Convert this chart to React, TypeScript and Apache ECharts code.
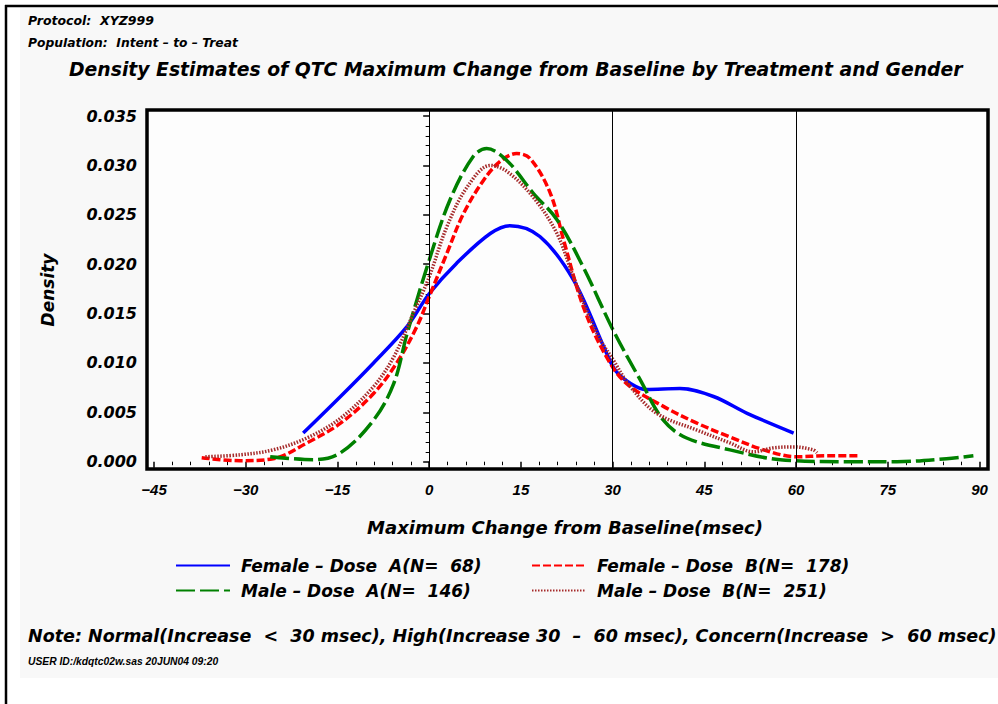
import React, { useEffect, useRef } from "react";
import * as echarts from "echarts";

// ---- data (x = max change from baseline in msec, y = density) ----
const femaleDoseA: [number, number][] = [
  [-20.6, 0.0029], [-14.5, 0.0066], [-9.1, 0.01], [-3.6, 0.0137], [0, 0.017],
  [4.5, 0.0201], [10, 0.0231], [13.2, 0.0239], [18.1, 0.0228], [23.6, 0.0184],
  [29, 0.011], [30.5, 0.0092], [33, 0.0079], [35.5, 0.0073], [41, 0.0074],
  [46.5, 0.0066], [52, 0.0049], [59.6, 0.0029],
];
const femaleDoseB: [number, number][] = [
  [-37.2, 0.0004], [-30.9, 0.0001], [-25.5, 0.0003], [-20, 0.0019], [-14.5, 0.0039],
  [-9.1, 0.0069], [-5.3, 0.01], [-2, 0.0137], [0, 0.0167], [2.9, 0.0211],
  [5.6, 0.0251], [8.9, 0.0285], [11.6, 0.0304], [14.3, 0.0312], [16.5, 0.0307],
  [19.8, 0.0272], [22, 0.0224], [25.2, 0.0157], [29, 0.0106], [32.3, 0.0079],
  [38.3, 0.0056], [43.8, 0.0039], [49.2, 0.0025], [54.7, 0.0012], [60.1, 0.0005],
  [65, 0.0006], [70.5, 0.0006],
];
const maleDoseA: [number, number][] = [
  [-26, 0.0005], [-18.9, 0.0002], [-14.5, 0.0009], [-9.1, 0.0042], [-5.8, 0.0079],
  [-3.6, 0.013], [0, 0.0204], [3.4, 0.0265], [7.2, 0.0309], [9.4, 0.0317],
  [12.7, 0.0305], [17, 0.0272], [20.9, 0.0245], [25.2, 0.0197], [30.1, 0.0133],
  [34.5, 0.0083], [38.3, 0.0042], [42.1, 0.0024], [49.2, 0.0012], [57.4, 0.0002],
  [68, 0.0], [76.5, 0.0], [84.6, 0.0003], [89, 0.0006],
];
const maleDoseB: [number, number][] = [
  [-36.6, 0.0005], [-30.9, 0.0007], [-25.5, 0.0012], [-20, 0.0024], [-14.5, 0.0044],
  [-9.1, 0.0076], [-5.8, 0.0106], [-2.6, 0.015], [0, 0.0187], [2.9, 0.0238],
  [6.2, 0.0278], [10, 0.03], [12.7, 0.0294], [17, 0.0268], [20.9, 0.0231],
  [23.6, 0.0187], [27.4, 0.013], [30.1, 0.0103], [32.9, 0.0076], [37.2, 0.0049],
  [43.8, 0.0032], [49.2, 0.0019], [53, 0.001], [56.3, 0.0014], [59.6, 0.0015],
  [62.8, 0.0012], [63.4, 0.0009],
];
const referenceLines = [0, 30, 60];

const seriesNames = [
  "Female – Dose  A(N=  68)",
  "Female – Dose  B(N=  178)",
  "Male – Dose  A(N=  146)",
  "Male – Dose  B(N=  251)",
];

const titleText = "Density Estimates of QTC Maximum Change from Baseline by Treatment and Gender";
const protocolText = "Protocol:  XYZ999";
const populationText = "Population:  Intent – to – Treat";
const xAxisTitle = "Maximum Change from Baseline(msec)";
const yAxisTitle = "Density";
const noteText =
  "Note: Normal(Increase  <  30 msec), High(Increase 30  –  60 msec), Concern(Increase  >  60 msec)";
const userText = "USER ID:/kdqtc02w.sas 20JUN04 09:20";

const X_MIN = -45, X_MAX = 90, X_STEP = 15;
const Y_MIN = 0, Y_MAX = 0.035, Y_STEP = 0.005;

const LIB = '"Liberation Sans", Arial, sans-serif';
const DJV = '"DejaVu Sans", "Liberation Sans", sans-serif';
const font = (size: number, family: string = DJV) => ({
  fontFamily: family,
  fontSize: size,
  fontWeight: "bold" as const,
  fontStyle: "italic" as const,
  color: "#000",
});

export default function App() {
  const ref = useRef<HTMLDivElement>(null);

  useEffect(() => {
    if (!ref.current) return;
    const chart = echarts.init(ref.current, null, { renderer: "svg" });

    // Visible-axis grid (tick positions) and frame grid (plot box)
    const ax = { left: 154, top: 116, right: 979.5, bottom: 461.7 };
    const fr = { left: 147, top: 110, right: 988, bottom: 469 };
    const pxPerX = (ax.right - ax.left) / (X_MAX - X_MIN);
    const pxPerY = (ax.bottom - ax.top) / (Y_MAX - Y_MIN);
    const fxMin = X_MIN - (ax.left - fr.left) / pxPerX;
    const fxMax = X_MAX + (fr.right - ax.right) / pxPerX;
    const fyMin = Y_MIN - (fr.bottom - ax.bottom) / pxPerY;
    const fyMax = Y_MAX + (ax.top - fr.top) / pxPerY;

    const mk = (
      name: string,
      data: [number, number][],
      color: string,
      type: any,
      width: number
    ) => ({
      name,
      type: "line",
      xAxisIndex: 0,
      yAxisIndex: 0,
      data,
      smooth: 0.35,
      showSymbol: false,
      symbol: "none",
      z: 3,
      lineStyle: { color, width, type, cap: "butt" },
      itemStyle: { color },
      emphasis: { disabled: true },
    });

    const legendBase = {
      orient: "vertical",
      top: 557,
      padding: 0,
      itemWidth: 54,
      itemHeight: 12,
      itemGap: 8,
      itemStyle: { opacity: 0 },
      textStyle: { ...font(17), padding: [0, 0, 0, 6] },
      selectedMode: false,
    };

    chart.setOption({
      animation: false,
      backgroundColor: "#ffffff",
      title: {
        text: titleText,
        left: 69,
        top: 60,
        padding: 0,
        textStyle: { ...font(18.8) },
      },
      grid: [
        {
          left: fr.left,
          top: fr.top,
          width: fr.right - fr.left,
          height: fr.bottom - fr.top,
          show: true,
          borderColor: "#000",
          borderWidth: 3.5,
          backgroundColor: "#FDFDFD",
          containLabel: false,
        },
        {
          left: ax.left,
          top: ax.top,
          width: ax.right - ax.left,
          height: ax.bottom - ax.top,
          containLabel: false,
        },
      ],
      xAxis: [
        {
          type: "value",
          gridIndex: 0,
          min: fxMin,
          max: fxMax,
          show: false,
          splitLine: { show: false },
        },
        {
          type: "value",
          gridIndex: 1,
          min: X_MIN,
          max: X_MAX,
          interval: X_STEP,
          position: "bottom",
          offset: fr.bottom - ax.bottom,
          axisLine: { show: false },
          axisTick: { show: true, length: 6, lineStyle: { color: "#000", width: 1.5 } },
          minorTick: { show: true, splitNumber: 5, length: 3.5, lineStyle: { color: "#000", width: 1 } },
          splitLine: { show: false },
          axisLabel: {
            ...font(15, LIB),
            margin: 13,
            formatter: (v: number) => (v < 0 ? "\u2212" + Math.abs(v) : String(v)),
          },
        },
      ],
      yAxis: [
        {
          type: "value",
          gridIndex: 0,
          min: fyMin,
          max: fyMax,
          show: false,
          splitLine: { show: false },
        },
        {
          type: "value",
          gridIndex: 1,
          min: Y_MIN,
          max: Y_MAX,
          interval: Y_STEP,
          position: "left",
          offset: ax.left - fr.left,
          axisLine: { show: false },
          axisTick: { show: true, length: 6, lineStyle: { color: "#000", width: 1.5 } },
          minorTick: { show: true, splitNumber: 5, length: 3.5, lineStyle: { color: "#000", width: 1 } },
          splitLine: { show: false },
          axisLabel: {
            ...font(16),
            margin: 10,
            formatter: (v: number) => v.toFixed(3),
          },
        },
      ],
      legend: [
        { ...legendBase, data: [seriesNames[0], seriesNames[2]], left: 175 },
        { ...legendBase, data: [seriesNames[1], seriesNames[3]], left: 531 },
      ],
      series: [
        {
          name: "refs",
          type: "line",
          xAxisIndex: 0,
          yAxisIndex: 0,
          data: [],
          z: 1,
          markLine: {
            silent: true,
            symbol: ["none", "none"],
            label: { show: false },
            lineStyle: { color: "#000", width: 1, type: "solid" },
            emphasis: { disabled: true },
            data: referenceLines.map((v) => ({ xAxis: v })),
          },
        },
        mk(seriesNames[0], femaleDoseA, "#0000FF", "solid", 3.5),
        mk(seriesNames[1], femaleDoseB, "#FF0000", [8, 3], 3.5),
        mk(seriesNames[2], maleDoseA, "#008000", [19, 5], 3.5),
        mk(seriesNames[3], maleDoseB, "#A52A2A", [1.5, 1.5], 3.5),
      ],
      graphic: [
        {
          type: "rect",
          z: -100,
          silent: true,
          shape: { x: 20, y: 8, width: 978, height: 670 },
          style: { fill: "#F8F8F8" },
        },
        {
          type: "line",
          silent: true,
          shape: { x1: 5, y1: 6, x2: 998, y2: 6 },
          style: { stroke: "#000", lineWidth: 2.5 },
        },
        {
          type: "line",
          silent: true,
          shape: { x1: 6, y1: 5, x2: 6, y2: 704 },
          style: { stroke: "#000", lineWidth: 2.5 },
        },
        {
          type: "text",
          x: 28,
          y: 20,
          style: { text: protocolText, ...font(12.5), fill: "#000", verticalAlign: "middle" },
        },
        {
          type: "text",
          x: 28,
          y: 43,
          style: { text: populationText, ...font(12.3), fill: "#000", verticalAlign: "middle" },
        },
        {
          type: "text",
          x: 48,
          y: 290,
          rotation: Math.PI / 2,
          style: { text: yAxisTitle, ...font(17), fill: "#000", align: "center", verticalAlign: "middle" },
        },
        {
          type: "text",
          x: 565,
          y: 527,
          style: { text: xAxisTitle, ...font(18), fill: "#000", align: "center", verticalAlign: "middle" },
        },
        {
          type: "text",
          x: 28,
          y: 636,
          style: { text: noteText, ...font(17.5), fill: "#000", verticalAlign: "middle" },
        },
        {
          type: "text",
          x: 28,
          y: 661,
          style: { text: userText, ...font(10.3, LIB), fill: "#000", verticalAlign: "middle" },
        },
      ],
    });

    return () => chart.dispose();
  }, []);

  return (
    <div
      ref={ref}
      style={{ position: "fixed", left: 0, top: 0, width: 998, height: 704 }}
    />
  );
}
